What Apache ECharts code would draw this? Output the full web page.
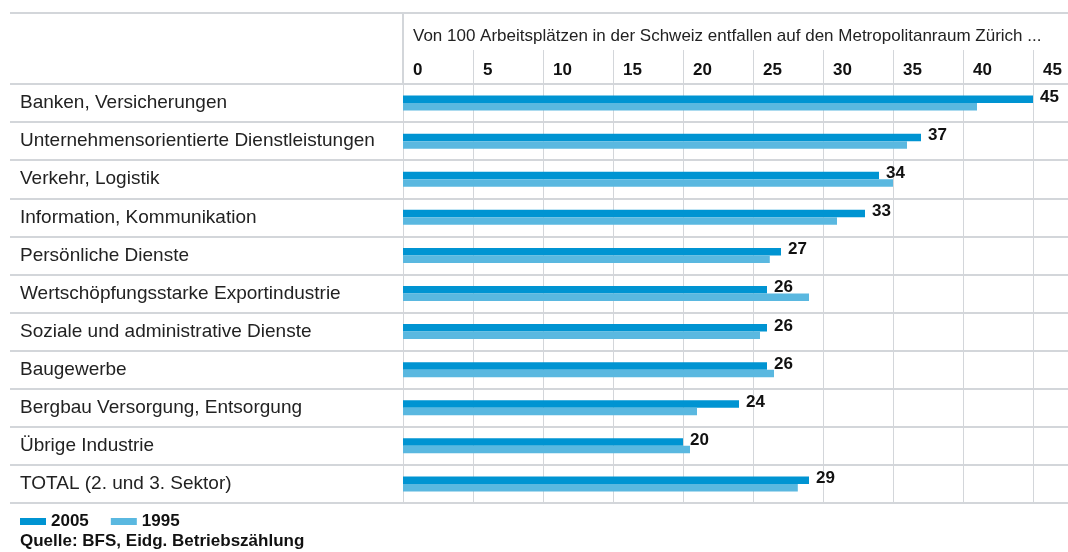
<!DOCTYPE html>
<html>
<head>
<meta charset="utf-8">
<script src="https://cdn.jsdelivr.net/npm/echarts@6/dist/echarts.min.js"></script>
<style>
  html, body { margin: 0; padding: 0; background: #fff; }
  #chart { width: 1068px; height: 552px; }
</style>
</head>
<body>
<div id="chart"></div>
<script>
// Daten
const categories = [
  'Banken, Versicherungen',
  'Unternehmensorientierte Dienstleistungen',
  'Verkehr, Logistik',
  'Information, Kommunikation',
  'Persönliche Dienste',
  'Wertschöpfungsstarke Exportindustrie',
  'Soziale und administrative Dienste',
  'Baugewerbe',
  'Bergbau Versorgung, Entsorgung',
  'Übrige Industrie',
  'TOTAL (2. und 3. Sektor)'
];
const values2005 = [45, 37, 34, 33, 27, 26, 26, 26, 24, 20, 29];
const values1995 = [41, 36, 35, 31, 26.2, 29, 25.5, 26.5, 21, 20.5, 28.2];
const xTicks = [0, 5, 10, 15, 20, 25, 30, 35, 40, 45];
const seriesNames = ['2005', '1995'];
const titleText = 'Von 100 Arbeitsplätzen in der Schweiz entfallen auf den Metropolitanraum Zürich ...';
const sourceText = 'Quelle: BFS, Eidg. Betriebszählung';

const font = 'Liberation Sans, Arial, sans-serif';
const lineGrey = '#d3d6da';

const chart = echarts.init(document.getElementById('chart'));

const option = {
  animation: false,
  textStyle: { fontFamily: font },
  color: ['#0094d2', '#5ab8e0'],
  title: [
    {
      text: titleText,
      left: 408, top: 23,
      textStyle: { fontSize: 17, fontWeight: 'normal', color: '#222', fontFamily: font }
    },
    {
      text: sourceText,
      left: 15, top: 528,
      textStyle: { fontSize: 17, fontWeight: 'bold', color: '#111', fontFamily: font }
    }
  ],
  legend: {
    data: seriesNames,
    left: 15, top: 508,
    icon: 'rect',
    itemWidth: 26, itemHeight: 7, itemGap: 22,
    textStyle: { fontSize: 17, fontWeight: 'bold', color: '#111', fontFamily: font }
  },
  graphic: [
    // Kopfzeile Linien
    { type: 'line', shape: { x1: 10, y1: 13, x2: 1068, y2: 13 }, style: { stroke: lineGrey, lineWidth: 2 } },
    { type: 'line', shape: { x1: 403, y1: 13, x2: 403, y2: 84 }, style: { stroke: lineGrey, lineWidth: 2 } }
  ],
  grid: [
    { left: 403, top: 84, width: 630, height: 419 },
    { left: 10, top: 84, right: 0, height: 419 }
  ],
  xAxis: [
    {
      gridIndex: 0,
      type: 'value',
      position: 'top',
      min: xTicks[0],
      max: xTicks[xTicks.length - 1],
      interval: xTicks[1] - xTicks[0],
      axisLine: { show: false },
      axisTick: { show: true, length: 34, lineStyle: { color: lineGrey, width: 1 } },
      axisLabel: {
        fontSize: 17, fontWeight: 'bold', color: '#111',
        align: 'left', padding: [0, 0, 0, 10], margin: 5
      },
      splitLine: { show: true, lineStyle: { color: lineGrey, width: 1 } }
    },
    { gridIndex: 1, type: 'value', show: false }
  ],
  yAxis: [
    {
      gridIndex: 0,
      type: 'category',
      inverse: true,
      data: categories,
      axisLine: { show: false },
      axisTick: { show: false },
      axisLabel: { show: false },
      splitLine: { show: false }
    },
    {
      gridIndex: 1,
      type: 'category',
      inverse: true,
      data: categories,
      axisLine: { show: false },
      axisTick: { show: false },
      axisLabel: { inside: true, margin: 10, fontSize: 19, color: '#222' },
      splitLine: { show: true, lineStyle: { color: lineGrey, width: 2 } }
    }
  ],
  series: [
    {
      name: seriesNames[0],
      type: 'bar',
      data: values2005,
      barWidth: 7.5,
      barGap: '0%',
      label: {
        show: true, position: 'right', distance: 7, offset: [0, -2],
        fontSize: 17, fontWeight: 'bold', color: '#111'
      }
    },
    {
      name: seriesNames[1],
      type: 'bar',
      data: values1995,
      barWidth: 7.5,
      barGap: '0%'
    }
  ]
};

chart.setOption(option);
</script>
</body>
</html>
